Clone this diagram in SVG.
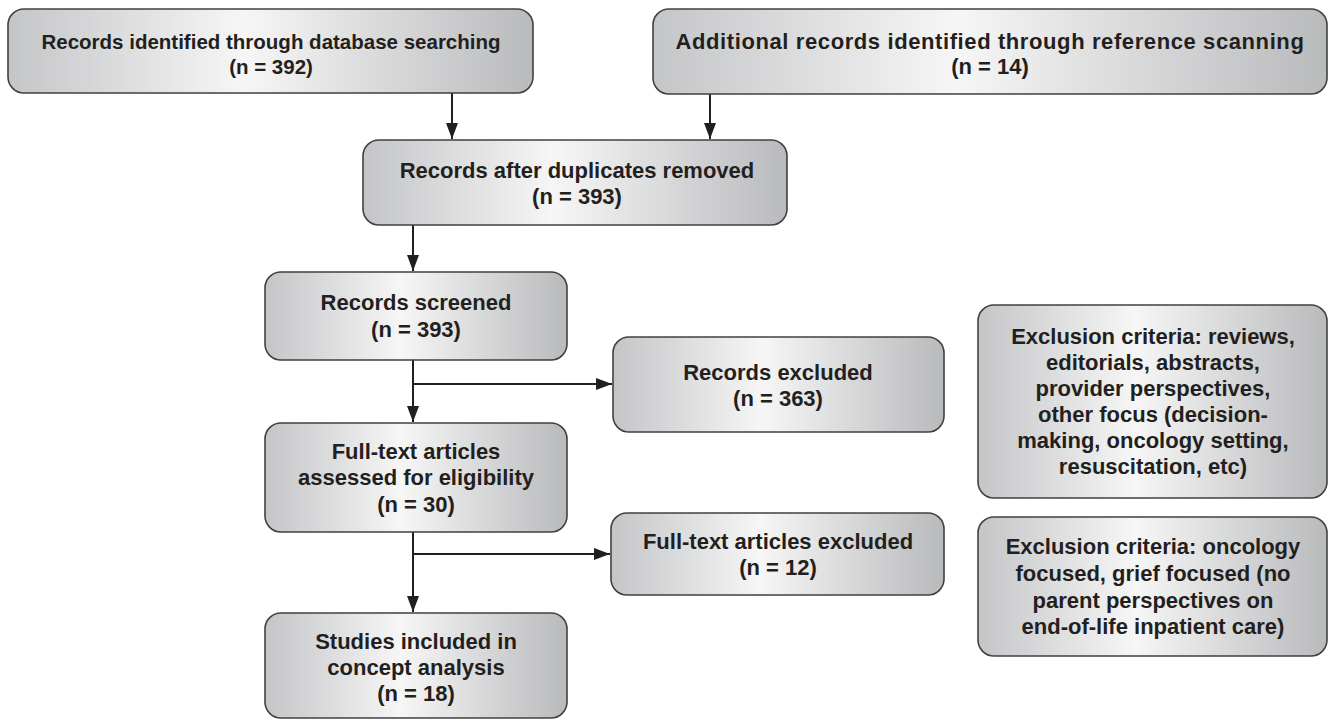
<svg xmlns="http://www.w3.org/2000/svg" width="1334" height="720" viewBox="0 0 1334 720">
<defs>
<linearGradient id="g" x1="0" y1="0" x2="1" y2="0">
<stop offset="0" stop-color="#c4c5c7"/>
<stop offset="0.45" stop-color="#f6f6f6"/>
<stop offset="1" stop-color="#b9babc"/>
</linearGradient>
<marker id="ah" viewBox="0 0 16 12" refX="16" refY="6" markerWidth="16" markerHeight="12" markerUnits="userSpaceOnUse" orient="auto">
<path d="M0,0 L16,6 L0,12 Z" fill="#231f20"/>
</marker>
<style>
.box{fill:url(#g);stroke:#404040;stroke-width:1.6}
.t{font-family:"Liberation Sans",Arial,sans-serif;font-weight:700;font-size:22px;fill:#231f20;text-anchor:middle}
.s{font-size:20.5px}
.w{letter-spacing:0.6px}
.c{fill:none;stroke:#231f20;stroke-width:2}
</style>
</defs>
<rect width="1334" height="720" fill="#ffffff"/>
<g id="connectors">
<line class="c" x1="452" y1="93" x2="452" y2="139" marker-end="url(#ah)"/>
<line class="c" x1="710" y1="94" x2="710" y2="139" marker-end="url(#ah)"/>
<line class="c" x1="413" y1="225" x2="413" y2="271" marker-end="url(#ah)"/>
<line class="c" x1="413" y1="360" x2="413" y2="422" marker-end="url(#ah)"/>
<line class="c" x1="413" y1="384" x2="612" y2="384" marker-end="url(#ah)"/>
<line class="c" x1="413" y1="532" x2="413" y2="612" marker-end="url(#ah)"/>
<line class="c" x1="413" y1="554" x2="610" y2="554" marker-end="url(#ah)"/>
</g>
<g id="n1">
<rect class="box" x="8" y="9" width="525" height="84" rx="16"/>
<text class="t s" x="271" y="49">Records identified through database searching</text>
<text class="t s" x="271" y="74">(n = 392)</text>
</g>
<g id="n2">
<rect class="box" x="653" y="9" width="674" height="85" rx="16"/>
<text class="t w" x="990" y="49">Additional records identified through reference scanning</text>
<text class="t" x="990" y="74">(n = 14)</text>
</g>
<g id="n3">
<rect class="box" x="363" y="140" width="424" height="85" rx="16"/>
<text class="t" x="577" y="178">Records after duplicates removed</text>
<text class="t" x="577" y="204">(n = 393)</text>
</g>
<g id="n4">
<rect class="box" x="265" y="272" width="302" height="88" rx="16"/>
<text class="t" x="416" y="310">Records screened</text>
<text class="t" x="416" y="337">(n = 393)</text>
</g>
<g id="n5">
<rect class="box" x="613" y="337" width="331" height="95" rx="16"/>
<text class="t" x="778" y="380">Records excluded</text>
<text class="t" x="778" y="406">(n = 363)</text>
</g>
<g id="n6">
<rect class="box" x="265" y="423" width="302" height="109" rx="16"/>
<text class="t" x="416" y="459">Full-text articles</text>
<text class="t" x="416" y="485">assessed for eligibility</text>
<text class="t" x="416" y="512">(n = 30)</text>
</g>
<g id="n7">
<rect class="box" x="611" y="513" width="333" height="82" rx="16"/>
<text class="t" x="778" y="549">Full-text articles excluded</text>
<text class="t" x="778" y="575">(n = 12)</text>
</g>
<g id="n8">
<rect class="box" x="265" y="613" width="302" height="105" rx="16"/>
<text class="t" x="416" y="649">Studies included in</text>
<text class="t" x="416" y="675">concept analysis</text>
<text class="t" x="416" y="701">(n = 18)</text>
</g>
<g id="n9">
<rect class="box" x="978" y="305" width="349" height="193" rx="16"/>
<text class="t" x="1153" y="344">Exclusion criteria: reviews,</text>
<text class="t" x="1153" y="370">editorials, abstracts,</text>
<text class="t" x="1153" y="396">provider perspectives,</text>
<text class="t" x="1153" y="422">other focus (decision-</text>
<text class="t" x="1153" y="448">making, oncology setting,</text>
<text class="t" x="1153" y="474">resuscitation, etc)</text>
</g>
<g id="n10">
<rect class="box" x="978" y="517" width="349" height="139" rx="16"/>
<text class="t" x="1153" y="554">Exclusion criteria: oncology</text>
<text class="t" x="1153" y="581">focused, grief focused (no</text>
<text class="t" x="1153" y="608">parent perspectives on</text>
<text class="t" x="1153" y="634">end-of-life inpatient care)</text>
</g>
</svg>
